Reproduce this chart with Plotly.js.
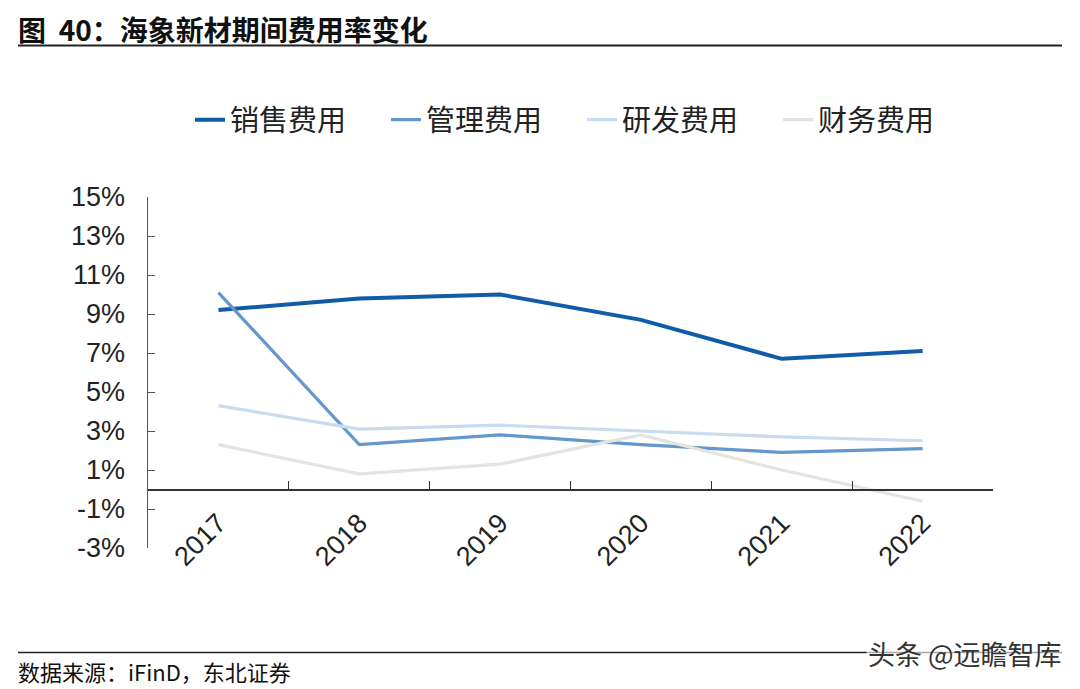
<!DOCTYPE html>
<html>
<head>
<meta charset="utf-8">
<script src="https://cdn.plot.ly/plotly-3.0.1.min.js"></script>
<style>
  body { margin: 0; background: #fff; }
  #chart { width: 1080px; height: 689px; }
</style>
</head>
<body>
<div id="chart"></div>
<script>
// 海象新材 期间费用率 (%)
const years = ['2017', '2018', '2019', '2020', '2021', '2022'];
const sales   = [9.2, 9.8, 10.0, 8.7, 6.7, 7.1];   // 销售费用
const admin   = [10.1, 2.3, 2.8, 2.3, 1.9, 2.1];  // 管理费用
const rnd     = [4.3, 3.1, 3.3, 3.0, 2.7, 2.5];   // 研发费用
const finance = [2.3, 0.8, 1.3, 2.8, 1.0, -0.6];  // 财务费用
const seriesNames = ['销售费用', '管理费用', '研发费用', '财务费用'];
const yTicks = [-3, -1, 1, 3, 5, 7, 9, 11, 13, 15];

const colors = ['#0f5ca8', '#6497cb', '#c9dcef', '#e4e4de'];
const widths = [4, 3.2, 3.2, 3.2];

const traces = [sales, admin, rnd, finance].map((vals, i) => ({
  x: years,
  y: vals,
  name: seriesNames[i],
  type: 'scatter',
  mode: 'lines',
  line: {color: colors[i], width: widths[i]},
  hoverinfo: 'skip'
}));

// plot area: x 148..993, y 197..548 px
const px = v => (v - 148) / 845;
const py = v => (547.6 - v) / 350.3;

const layout = {
  width: 1080,
  height: 689,
  margin: {l: 148, r: 87, t: 197, b: 141},
  paper_bgcolor: '#fff',
  plot_bgcolor: '#fff',
  font: {family: 'Liberation Sans, Arial, sans-serif', color: '#222'},
  showlegend: true,
  legend: {
    orientation: 'h',
    x: px(190), xanchor: 'left',
    y: 1.22, yanchor: 'middle',
    font: {family: 'Noto Sans CJK SC, sans-serif', size: 29, color: '#222'},
    entrywidth: 151,
    entrywidthmode: 'pixels',
    itemwidth: 30,
    tracegroupgap: 0
  },
  xaxis: {
    type: 'category',
    range: [-0.5, 5.5],
    anchor: 'free',
    position: 3 / 18,
    showline: true,
    linecolor: '#333',
    linewidth: 2,
    ticks: 'inside',
    tickson: 'boundaries',
    ticklen: 8,
    tickcolor: '#333',
    tickangle: -45,
    tickfont: {size: 27, color: '#222'},
    ticklabelstandoff: 6,
    showgrid: false,
    zeroline: false,
    fixedrange: true
  },
  yaxis: {
    range: [-3, 15],
    tickvals: yTicks,
    ticktext: yTicks.map(v => v + '%'),
    showline: true,
    linecolor: '#555',
    linewidth: 1.5,
    ticks: 'inside',
    ticklen: 7,
    tickcolor: '#555',
    tickfont: {size: 27, color: '#222'},
    ticklabelstandoff: 16,
    showgrid: false,
    zeroline: false,
    fixedrange: true
  },
  shapes: [
    {type: 'line', xref: 'paper', yref: 'paper', x0: px(18), x1: px(1062), y0: py(46), y1: py(46),
     line: {color: '#222', width: 2}},
    {type: 'line', xref: 'paper', yref: 'paper', x0: px(18), x1: px(1062), y0: py(652), y1: py(652),
     line: {color: '#222', width: 1.5}}
  ],
  annotations: [
    {text: '<b>图  40：海象新材期间费用率变化</b>', xref: 'paper', yref: 'paper',
     x: px(16), y: py(30), xanchor: 'left', yanchor: 'middle', showarrow: false,
     font: {family: 'Noto Sans CJK SC, serif', size: 28, color: '#111'}},
    {text: '数据来源：iFinD，东北证券', xref: 'paper', yref: 'paper',
     x: px(16), y: py(670), xanchor: 'left', yanchor: 'middle', showarrow: false,
     font: {family: 'Noto Sans CJK SC, serif', size: 22, color: '#111'}},
    {text: '头条 @远瞻智库', xref: 'paper', yref: 'paper',
     x: px(1064), y: py(653), xanchor: 'right', yanchor: 'middle', showarrow: false,
     bgcolor: 'rgba(255,255,255,0.6)',
     font: {family: 'Noto Sans CJK SC, sans-serif', size: 27, color: '#333'}}
  ]
};

Plotly.newPlot('chart', traces, layout, {displayModeBar: false, staticPlot: true});
</script>
</body>
</html>
